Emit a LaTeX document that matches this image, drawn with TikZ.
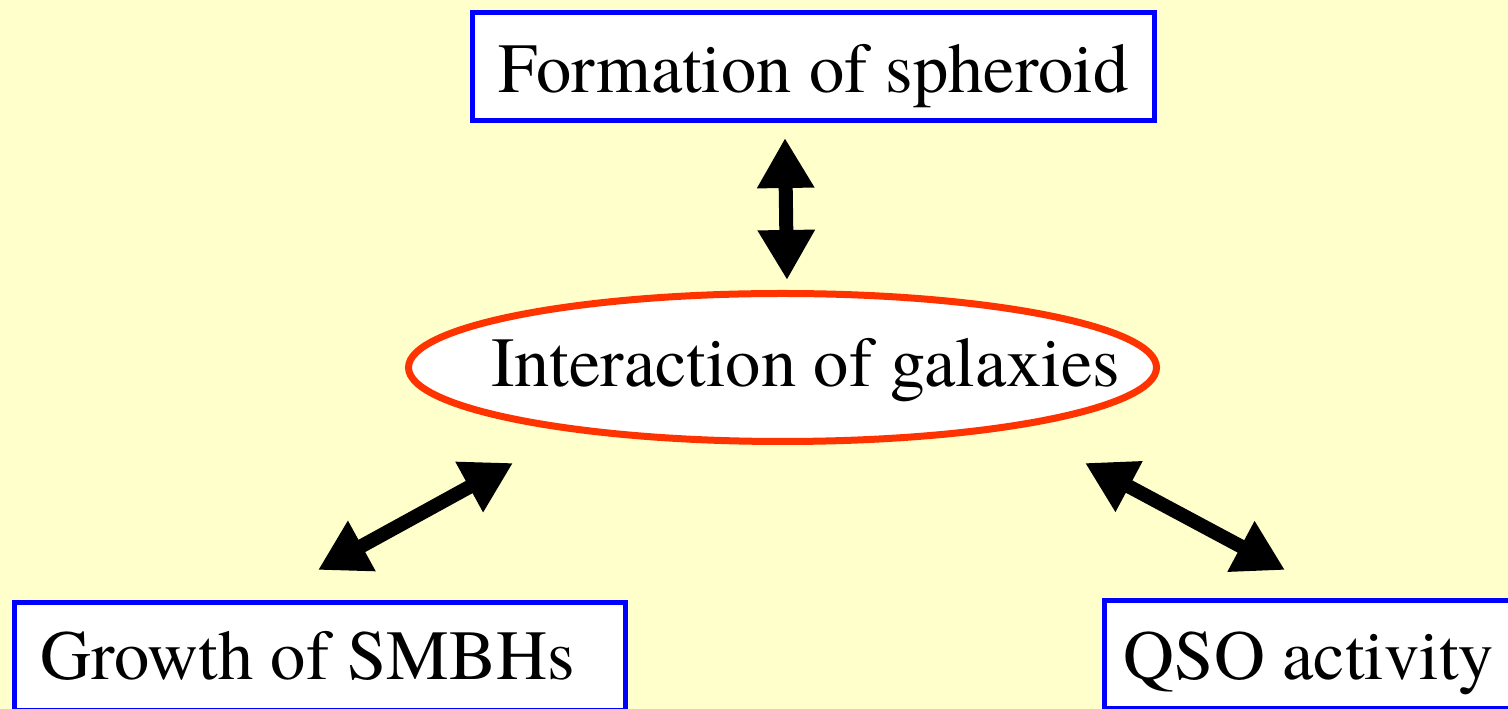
\documentclass[tikz,border=0pt]{standalone}
\usepackage{fontspec}
\newfontfamily\timesfont{texgyretermes-regular.otf}
\usetikzlibrary{arrows.meta,shapes.geometric}
\definecolor{bgyellow}{HTML}{FFFFCC}
\definecolor{boxblue}{HTML}{0000FF}
\definecolor{ellred}{HTML}{FF3300}
\tikzset{
  bluebox/.style={draw=boxblue, line width=5pt, fill=white, rectangle, inner sep=0pt, text depth=0pt, font=\timesfont\fontsize{70.5}{80}\selectfont},
  redell/.style={draw=ellred, line width=7pt, fill=white, ellipse, inner sep=0pt, text depth=0pt, font=\timesfont\fontsize{70.5}{80}\selectfont},
  bigarrow/.style={line width=14pt, black, {Triangle[length=50pt,width=54pt]}-{Triangle[length=50pt,width=54pt]}}
}
\begin{document}
\begin{tikzpicture}[x=1pt,y=1pt]
\fill[bgyellow] (0,0) rectangle (1508,709);
\useasboundingbox (0,0) rectangle (1508,709);
\node[bluebox, minimum width=682pt, minimum height=108pt, text height=53pt] (spheroid) at (813.5,642.5) {Formation of spheroid};
\node[redell, minimum width=748pt, minimum height=148pt, text height=39pt] (inter) at (782.5,341.5) {\makebox[0pt]{\hspace*{46pt}Interaction of galaxies}};
\node[bluebox, minimum width=611pt, minimum height=108pt, text height=47pt] (smbh) at (320,52.5) {\makebox[0pt]{Growth of SMBHs\hspace*{25pt}}};
\node[bluebox, minimum width=409pt, minimum height=108pt, text height=51pt] (qso) at (1309,54.5) {QSO activity};
\coordinate (a1s) at (785,571);
\coordinate (a1e) at (787,429);
\coordinate (a2s) at (318,139);
\coordinate (a2e) at (513,246);
\coordinate (a3s) at (1085,246);
\coordinate (a3e) at (1285,139);
\draw[bigarrow] (a1s) -- (a1e);
\draw[bigarrow] (a2s) -- (a2e);
\draw[bigarrow] (a3s) -- (a3e);
\end{tikzpicture}
\end{document}
